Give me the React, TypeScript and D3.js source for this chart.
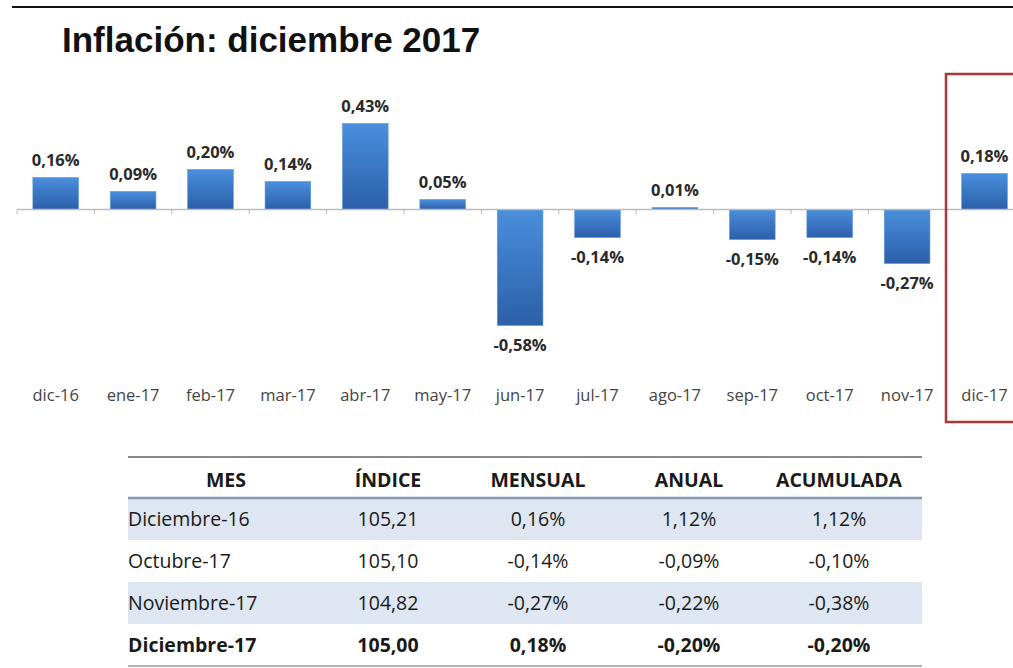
import React from "react";
import * as d3 from "d3";

const months = ["dic-16", "ene-17", "feb-17", "mar-17", "abr-17", "may-17", "jun-17", "jul-17", "ago-17", "sep-17", "oct-17", "nov-17", "dic-17"];
const monthly = [0.16, 0.09, 0.2, 0.14, 0.43, 0.05, -0.58, -0.14, 0.01, -0.15, -0.14, -0.27, 0.18];

const tableHeaders = ["MES", "ÍNDICE", "MENSUAL", "ANUAL", "ACUMULADA"];
const rowMes = ["Diciembre-16", "Octubre-17", "Noviembre-17", "Diciembre-17"];
const rowIndice = ["105,21", "105,10", "104,82", "105,00"];
const rowMensual = ["0,16%", "-0,14%", "-0,27%", "0,18%"];
const rowAnual = ["1,12%", "-0,09%", "-0,22%", "-0,20%"];
const rowAcumulada = ["1,12%", "-0,10%", "-0,38%", "-0,20%"];

const W = 1013;
const H = 668;

export default function App() {
  const step = 77.4;
  const x = d3
    .scaleBand<string>()
    .domain(months)
    .range([17, 17 + step * months.length])
    .paddingInner(0.41)
    .paddingOuter(0.205);
  const y = d3.scaleLinear().domain([-0.6, 0.45]).range([329.5, 119.5]);
  const y0 = y(0);
  const fmt = (v: number) => d3.format(".2f")(v).replace(".", ",").replace("\u2212", "-") + "%";

  const tableLeft = 128;
  const tableRight = 922;
  const colCenters = [226, 388, 538, 689, 839];
  const headerTop = 457;
  const headerBottom = 498;
  const rowH = 42;
  const rows = rowMes.map((m, i) => [m, rowIndice[i], rowMensual[i], rowAnual[i], rowAcumulada[i]]);
  const font = "'Open Sans', 'Liberation Sans', sans-serif";

  return (
    <svg width={W} height={H} style={{ position: "absolute", left: 0, top: 0, background: "#fff" }}>
      <defs>
        <linearGradient id="barGrad" x1="0" y1="0" x2="0" y2="1">
          <stop offset="0%" stopColor="#4a8fdd" />
          <stop offset="100%" stopColor="#2c5fa9" />
        </linearGradient>
      </defs>
      {/* top rule */}
      <line x1={12} x2={W} y1={7} y2={7} stroke="#111" strokeWidth={2} />
      {/* title */}
      <text x={62} y={52} fontFamily="'Liberation Sans', Arial, sans-serif" fontWeight="bold" fontSize={35} fill="#111">
        Inflación: diciembre 2017
      </text>

      {/* bars */}
      {months.map((m, i) => {
        const v = monthly[i];
        const top = v >= 0 ? y(v) : y0;
        const h = Math.abs(y(v) - y0);
        return (
          <rect key={m} x={x(m)!} y={top} width={x.bandwidth()} height={h} fill="url(#barGrad)" stroke="#5b97dc" strokeWidth={0.6} />
        );
      })}
      {/* axis */}
      <line x1={17} x2={W} y1={y0} y2={y0} stroke="#bdbdbd" strokeWidth={1.5} />
      {months.map((m, i) => {
        const bx = 17 + step * i;
        return <line key={"t" + m} x1={bx} x2={bx} y1={y0} y2={y0 + 5} stroke="#bdbdbd" strokeWidth={1} />;
      })}
      {/* value labels */}
      {months.map((m, i) => {
        const v = monthly[i];
        const cx = x(m)! + x.bandwidth() / 2;
        const ty = v >= 0 ? y(v) - 12 : y(v) + 25;
        return (
          <text key={"v" + m} x={cx} y={ty} textAnchor="middle" fontFamily={font} fontWeight="bold" fontSize={16.5} fill="#2a2a2a">
            {fmt(v)}
          </text>
        );
      })}
      {/* category labels */}
      {months.map((m) => (
        <text key={"c" + m} x={x(m)! + x.bandwidth() / 2} y={401} textAnchor="middle" fontFamily={font} fontSize={16.5} fill="#444">
          {m}
        </text>
      ))}
      {/* highlight box */}
      <rect x={946} y={74} width={80} height={348} fill="none" stroke="#a8393a" strokeWidth={2.5} />

      {/* table */}
      {rows.map((r, i) =>
        i % 2 === 0 ? (
          <rect key={"bg" + i} x={tableLeft} y={headerBottom + i * rowH} width={tableRight - tableLeft} height={rowH} fill="#dde6f1" />
        ) : null
      )}
      <line x1={tableLeft} x2={tableRight} y1={headerTop} y2={headerTop} stroke="#8a8a8a" strokeWidth={2} />
      <line x1={tableLeft} x2={tableRight} y1={headerBottom} y2={headerBottom} stroke="#8797b0" strokeWidth={2.5} />
      <line x1={tableLeft} x2={tableRight} y1={headerBottom + 4 * rowH} y2={headerBottom + 4 * rowH} stroke="#9a9a9a" strokeWidth={1.5} />
      {tableHeaders.map((h, j) => (
        <text key={"h" + j} x={colCenters[j]} y={487} textAnchor="middle" fontFamily={font} fontWeight="bold" fontSize={19.5} fill="#1a1a1a">
          {h}
        </text>
      ))}
      {rows.map((r, i) =>
        r.map((cell, j) => (
          <text
            key={"cell" + i + "-" + j}
            x={j === 0 ? tableLeft : colCenters[j]}
            y={headerBottom + i * rowH + 28}
            textAnchor={j === 0 ? "start" : "middle"}
            fontFamily={font}
            fontWeight={i === 3 ? "bold" : "normal"}
            fontSize={19.5}
            fill="#1a1a1a"
          >
            {cell}
          </text>
        ))
      )}
    </svg>
  );
}
